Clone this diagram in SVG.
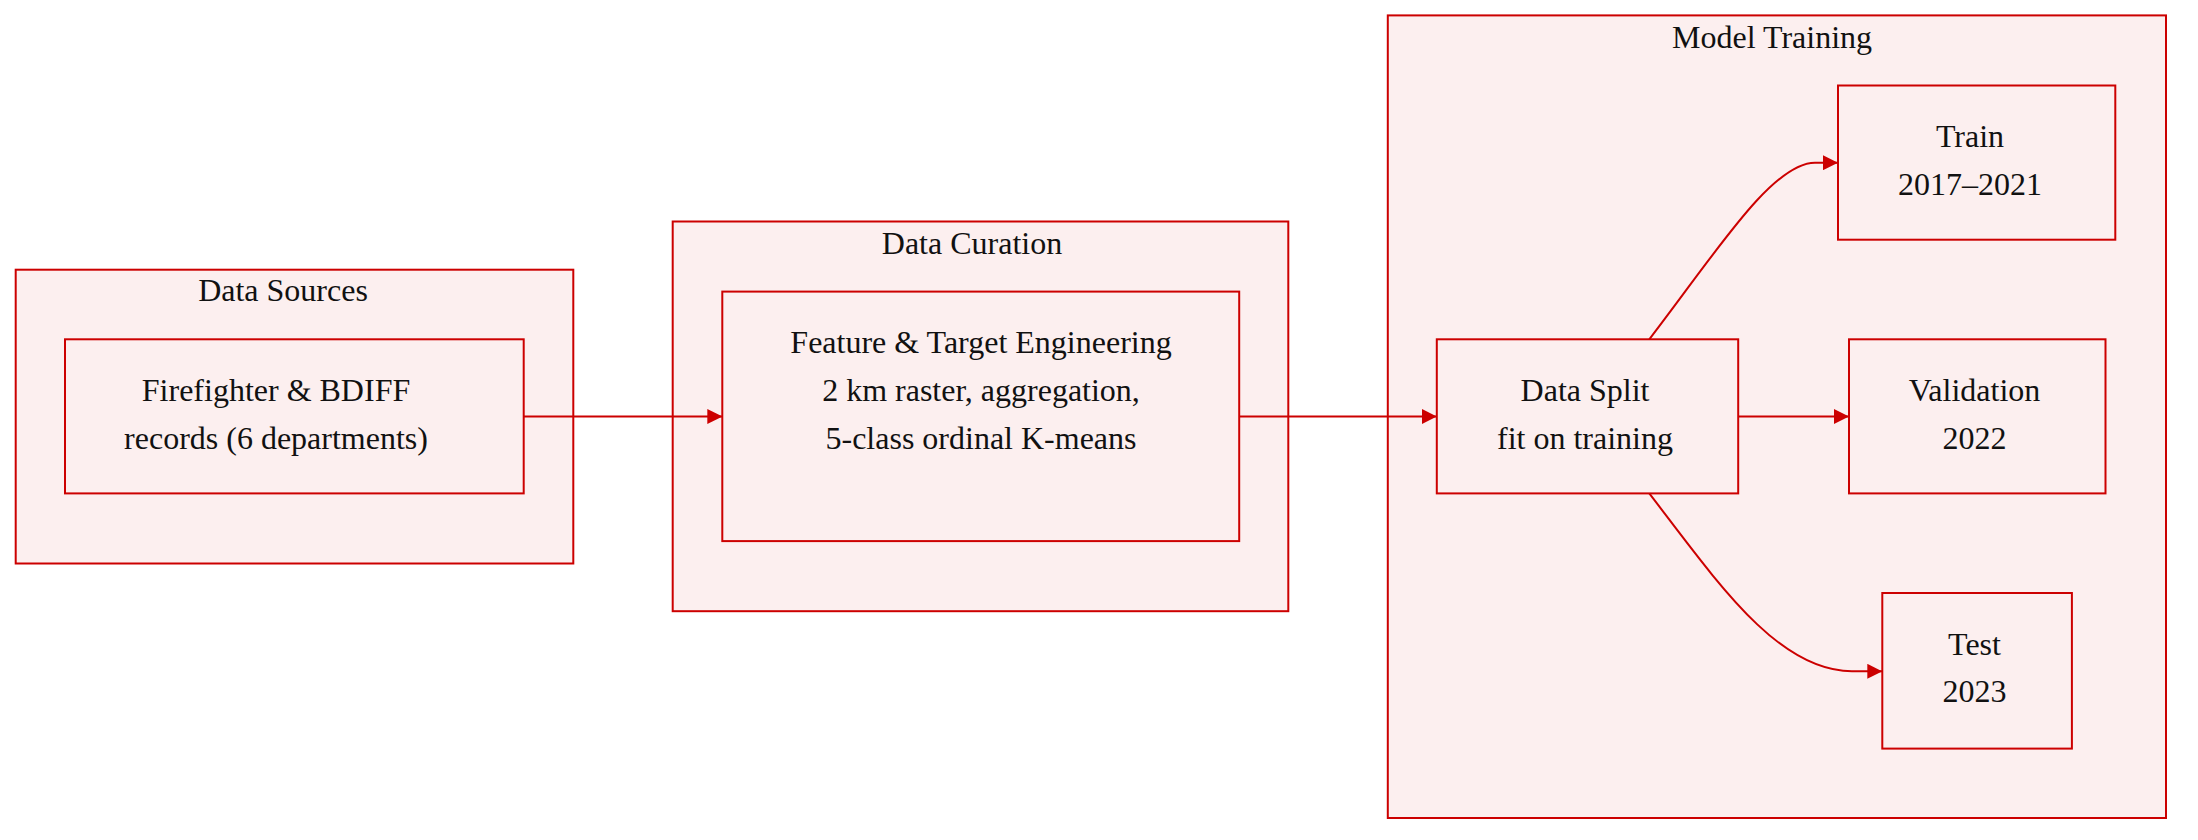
<svg xmlns="http://www.w3.org/2000/svg" width="2198" height="840" viewBox="0 0 2198 840">
<style>
.cl{fill:#fcefef;stroke:#cc0000;stroke-width:2}
.nd{fill:#fcefef;stroke:#cc0000;stroke-width:2}
.t{font-family:"Liberation Serif","Times New Roman",serif;font-size:32px;fill:#111;text-anchor:middle}
.e{fill:none;stroke:#cc0000;stroke-width:2}
</style>
<defs>
<marker id="ah" viewBox="0 0 15 15" refX="15" refY="7.5" markerWidth="15" markerHeight="15" markerUnits="userSpaceOnUse" orient="auto">
<path d="M0,0 L15,7.5 L0,15 Z" fill="#cc0000"/>
</marker>
</defs>
<rect width="2198" height="840" fill="#ffffff"/>
<g id="cluster-sources">
<rect class="cl" x="15.7" y="269.7" width="557.6" height="293.8"/>
<text class="t" x="283" y="301">Data Sources</text>
</g>
<g id="cluster-curation">
<rect class="cl" x="672.7" y="221.5" width="615.6" height="389.7"/>
<text class="t" x="972" y="254">Data Curation</text>
</g>
<g id="cluster-training">
<rect class="cl" x="1387.8" y="15.4" width="778.2" height="802.6"/>
<text class="t" x="1772" y="48">Model Training</text>
</g>
<g id="node-records">
<rect class="nd" x="65" y="339.3" width="458.7" height="154.1"/>
<text class="t" x="276" y="401">Firefighter &amp; BDIFF</text>
<text class="t" x="276" y="449">records (6 departments)</text>
</g>
<g id="node-feature">
<rect class="nd" x="722.3" y="291.6" width="516.9" height="249.5"/>
<text class="t" x="981" y="353">Feature &amp; Target Engineering</text>
<text class="t" x="981" y="401">2 km raster, aggregation,</text>
<text class="t" x="981" y="449">5-class ordinal K-means</text>
</g>
<g id="node-split">
<rect class="nd" x="1436.8" y="339.3" width="301.4" height="154.1"/>
<text class="t" x="1585" y="401">Data Split</text>
<text class="t" x="1585" y="449">fit on training</text>
</g>
<g id="node-train">
<rect class="nd" x="1838" y="85.5" width="277.3" height="154.2"/>
<text class="t" x="1970" y="147">Train</text>
<text class="t" x="1970" y="195">2017–2021</text>
</g>
<g id="node-validation">
<rect class="nd" x="1849" y="339.3" width="256.5" height="154.1"/>
<text class="t" x="1974.5" y="401">Validation</text>
<text class="t" x="1974.5" y="449">2022</text>
</g>
<g id="node-test">
<rect class="nd" x="1882.3" y="593" width="189.6" height="155.6"/>
<text class="t" x="1974.5" y="655">Test</text>
<text class="t" x="1974.5" y="702">2023</text>
</g>
<g id="connectors">
<path class="e" d="M523.7,416.5 L722.3,416.5" marker-end="url(#ah)"/>
<path class="e" d="M1239.2,416.5 L1436.8,416.5" marker-end="url(#ah)"/>
<path class="e" d="M1738.2,416.5 L1849,416.5" marker-end="url(#ah)"/>
<path class="e" d="M1649.3,339.3 C1715,254 1772,162.7 1815,162.7 L1838,162.7" marker-end="url(#ah)"/>
<path class="e" d="M1649.3,493.4 C1718,583 1778,671.3 1852,671.3 L1882.3,671.3" marker-end="url(#ah)"/>
</g>
</svg>
